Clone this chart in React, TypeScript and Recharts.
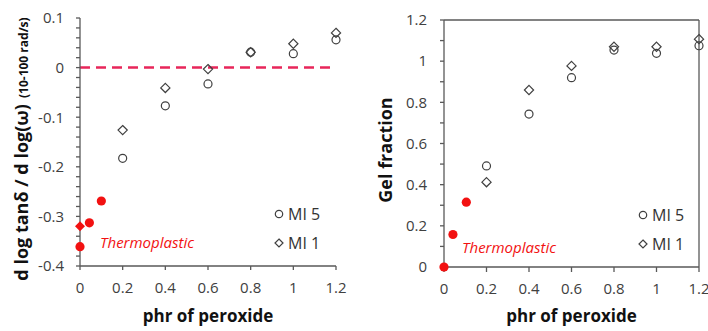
import { Label, ReferenceLine, Scatter, ScatterChart, XAxis, YAxis } from "recharts";

// phr of peroxide for the crosslinked samples
const phrLevels = [0.2, 0.4, 0.6, 0.8, 1.0, 1.2];

// d log tanδ / d log(ω)
const tanSlopeMI5 = [-0.183, -0.077, -0.033, 0.031, 0.028, 0.056];
const tanSlopeMI1 = [-0.126, -0.041, -0.003, 0.031, 0.048, 0.07];
const thermoTanPhr = [0, 0.044, 0.1];
const thermoTanSlope = [-0.361, -0.313, -0.269];
const thermoTanDiamondPhr = [0];
const thermoTanDiamondSlope = [-0.32];

// gel fraction
const gelMI5 = [0.491, 0.743, 0.92, 1.054, 1.038, 1.075];
const gelMI1 = [0.412, 0.86, 0.977, 1.07, 1.07, 1.107];
const thermoGelPhr = [0, 0.042, 0.105];
const thermoGel = [0, 0.158, 0.315];

// ticks
const phrTicks = [0, 0.2, 0.4, 0.6, 0.8, 1, 1.2];
const tanTicks = [-0.4, -0.3, -0.2, -0.1, 0, 0.1];
const gelTicks = [0, 0.2, 0.4, 0.6, 0.8, 1, 1.2];
const tanMinorTicks = Array.from({ length: 26 }, (_, i) => Math.round((-0.4 + i * 0.02) * 100) / 100);
const gelMinorTicks = Array.from({ length: 13 }, (_, i) => i / 10);

const FONT = '"Open Sans", sans-serif';
const AXIS = "#595959";
const INK = "#404040";
const RED = "#f21111";

const toPoints = (xs: number[], ys: number[]) => xs.map((x, i) => ({ x, y: ys[i] }));

const majorOnly = (majors: number[]) => (v: number) =>
  majors.some((t) => Math.abs(t - v) < 1e-9) ? String(v) : "";

const tickStyle = { fill: INK, fontSize: 15, fontFamily: FONT };

const OpenCircle = (p: any) => (
  <circle cx={p.cx} cy={p.cy} r={4} fill="none" stroke={INK} strokeWidth={1.2} />
);
const OpenDiamond = (p: any) => (
  <path
    d={`M${p.cx},${p.cy - 4.6}L${p.cx + 4.6},${p.cy}L${p.cx},${p.cy + 4.6}L${p.cx - 4.6},${p.cy}Z`}
    fill="none"
    stroke={INK}
    strokeWidth={1.2}
  />
);
const RedDot = (p: any) => <circle cx={p.cx} cy={p.cy} r={4.6} fill={RED} />;
const RedDiamond = (p: any) => (
  <path
    d={`M${p.cx},${p.cy - 5}L${p.cx + 5},${p.cy}L${p.cx},${p.cy + 5}L${p.cx - 5},${p.cy}Z`}
    fill={RED}
  />
);

const xTitle = (props: any) => {
  const vb = props.viewBox;
  return (
    <text x={vb.x + vb.width / 2} y={322} textAnchor="middle" fontFamily={FONT} fontSize={17} fontWeight={700} fill="#111">
      phr of peroxide
    </text>
  );
};

const tanTitle = () => (
  <text transform="translate(28,149) rotate(-90)" textAnchor="middle" fontFamily={FONT} fontWeight={700} fill="#111">
    <tspan fontSize={18}>d log tanδ / d log(ω)</tspan>
    <tspan fontSize={12} dx={6}>(10-100 rad/s)</tspan>
  </text>
);

const gelTitle = () => (
  <text transform="translate(38,150) rotate(-90)" textAnchor="middle" fontFamily={FONT} fontSize={18} fontWeight={700} fill="#111">
    Gel fraction
  </text>
);

function TanChart() {
  return (
    <ScatterChart width={354} height={331} margin={{ top: 18, right: 18, bottom: 0, left: 0 }}>
      <XAxis
        xAxisId="x"
        type="number"
        dataKey="x"
        domain={[0, 1.2]}
        ticks={phrTicks}
        interval={0}
        height={65}
        tickSize={4}
        tickMargin={12}
        stroke={AXIS}
        strokeWidth={1.3}
        tick={tickStyle}
      >
        <Label content={xTitle} />
      </XAxis>
      <XAxis xAxisId="xIn" type="number" domain={[0, 1.2]} ticks={phrTicks} interval={0} mirror tick={false} axisLine={false} tickSize={4} stroke={AXIS} strokeWidth={1.3} />
      <YAxis
        yAxisId="y"
        type="number"
        dataKey="y"
        domain={[-0.4, 0.1]}
        ticks={tanMinorTicks}
        interval={0}
        width={80}
        tickSize={4}
        tickMargin={12}
        tickFormatter={majorOnly(tanTicks)}
        stroke={AXIS}
        strokeWidth={1.3}
        tick={tickStyle}
      >
        <Label content={tanTitle} />
      </YAxis>
      <YAxis yAxisId="yIn" type="number" domain={[-0.4, 0.1]} ticks={tanTicks} interval={0} mirror tick={false} axisLine={false} tickSize={4} stroke={AXIS} strokeWidth={1.3} />
      <ReferenceLine xAxisId="x" yAxisId="y" y={0} stroke="#e8265a" strokeWidth={2.5} strokeDasharray="10 6" />
      <Scatter xAxisId="x" yAxisId="y" name="MI 5" data={toPoints(phrLevels, tanSlopeMI5)} shape={OpenCircle} isAnimationActive={false} />
      <Scatter xAxisId="x" yAxisId="y" name="MI 1" data={toPoints(phrLevels, tanSlopeMI1)} shape={OpenDiamond} isAnimationActive={false} />
      <Scatter xAxisId="x" yAxisId="y" name="Thermoplastic" data={toPoints(thermoTanPhr, thermoTanSlope)} shape={RedDot} isAnimationActive={false} />
      <Scatter xAxisId="x" yAxisId="y" name="Thermoplastic MI 1" data={toPoints(thermoTanDiamondPhr, thermoTanDiamondSlope)} shape={RedDiamond} isAnimationActive={false} />
    </ScatterChart>
  );
}

function GelChart() {
  return (
    <ScatterChart width={354} height={331} margin={{ top: 20, right: 9, bottom: 0, left: 0 }}>
      <XAxis
        xAxisId="x"
        type="number"
        dataKey="x"
        domain={[0, 1.2]}
        ticks={phrTicks}
        interval={0}
        height={64}
        tickSize={5}
        tickMargin={11}
        stroke={AXIS}
        strokeWidth={1.3}
        tick={tickStyle}
      >
        <Label content={xTitle} />
      </XAxis>
      <XAxis xAxisId="xIn" type="number" domain={[0, 1.2]} ticks={phrTicks} interval={0} mirror tick={false} axisLine={false} tickSize={5} stroke={AXIS} strokeWidth={1.3} />
      <XAxis xAxisId="top" orientation="top" type="number" domain={[0, 1.2]} mirror tick={false} tickLine={false} stroke={AXIS} strokeWidth={1.3} />
      <YAxis
        yAxisId="y"
        type="number"
        dataKey="y"
        domain={[0, 1.2]}
        ticks={gelMinorTicks}
        interval={0}
        width={90}
        tickSize={4}
        tickMargin={13}
        tickFormatter={majorOnly(gelTicks)}
        stroke={AXIS}
        strokeWidth={1.3}
        tick={tickStyle}
      >
        <Label content={gelTitle} />
      </YAxis>
      <YAxis yAxisId="yIn" type="number" domain={[0, 1.2]} ticks={gelTicks} interval={0} mirror tick={false} axisLine={false} tickSize={5} stroke={AXIS} strokeWidth={1.3} />
      <YAxis yAxisId="right" orientation="right" type="number" domain={[0, 1.2]} mirror tick={false} tickLine={false} stroke={AXIS} strokeWidth={1.3} />
      <Scatter xAxisId="x" yAxisId="y" name="MI 5" data={toPoints(phrLevels, gelMI5)} shape={OpenCircle} isAnimationActive={false} />
      <Scatter xAxisId="x" yAxisId="y" name="MI 1" data={toPoints(phrLevels, gelMI1)} shape={OpenDiamond} isAnimationActive={false} />
      <Scatter xAxisId="x" yAxisId="y" name="Thermoplastic" data={toPoints(thermoGelPhr, thermoGel)} shape={RedDot} isAnimationActive={false} />
    </ScatterChart>
  );
}

function LegendBox({ left, top }: { left: number; top: number }) {
  const row = (label: string, diamond: boolean, dy: number) => (
    <div style={{ position: "absolute", left: 0, top: dy, height: 20, display: "flex", alignItems: "center", whiteSpace: "nowrap" }}>
      <svg width={10} height={10} style={{ marginRight: 4 }}>
        {diamond ? (
          <path d="M5,1L9,5L5,9L1,5Z" fill="none" stroke={INK} strokeWidth={1.2} />
        ) : (
          <circle cx={5} cy={5} r={3.7} fill="none" stroke={INK} strokeWidth={1.2} />
        )}
      </svg>
      <span style={{ fontSize: 16, color: "#333", fontFamily: FONT }}>{label}</span>
    </div>
  );
  return (
    <div style={{ position: "absolute", left, top }}>
      {row("MI 5", false, 0)}
      {row("MI 1", true, 29)}
    </div>
  );
}

const thermoLabel = (left: number, top: number) => (
  <div style={{ position: "absolute", left, top, fontFamily: FONT, fontSize: 15, fontStyle: "italic", color: RED, whiteSpace: "nowrap", lineHeight: "20px" }}>
    Thermoplastic
  </div>
);

export default function App() {
  return (
    <div style={{ position: "absolute", left: 0, top: 0, width: 708, height: 331, background: "#fff", fontFamily: FONT, overflow: "hidden" }}>
      <div style={{ position: "absolute", left: 0, top: 0 }}>
        <TanChart />
      </div>
      <div style={{ position: "absolute", left: 354, top: 0 }}>
        <GelChart />
      </div>
      <LegendBox left={274} top={204} />
      <LegendBox left={638} top={205} />
      {thermoLabel(100, 232)}
      {thermoLabel(462, 237)}
    </div>
  );
}
